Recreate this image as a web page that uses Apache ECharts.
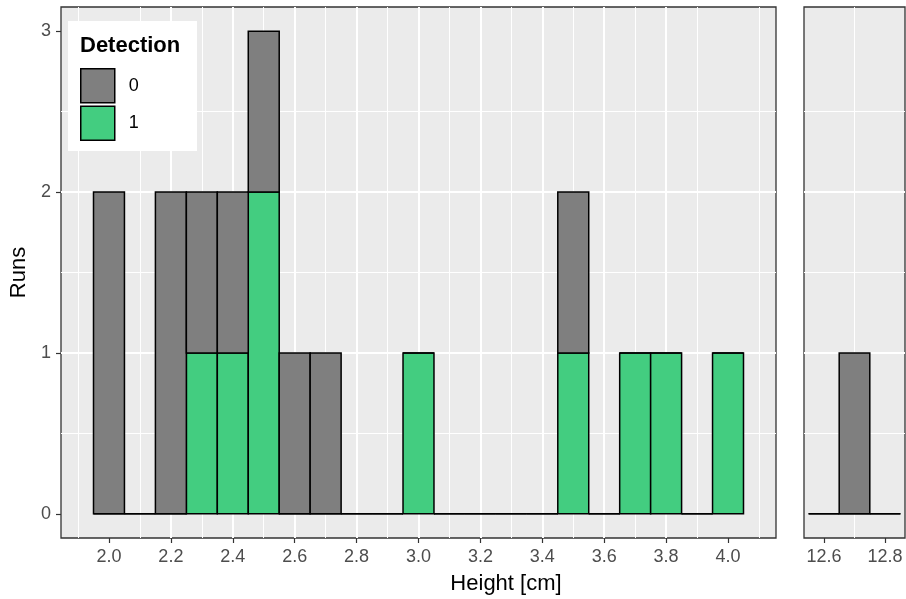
<!DOCTYPE html>
<html>
<head>
<meta charset="utf-8">
<script src="https://cdn.jsdelivr.net/npm/echarts@6/dist/echarts.min.js"></script>
<style>
  html, body { margin: 0; padding: 0; background: #ffffff; }
  #chart { width: 906px; height: 599px; }
</style>
</head>
<body>
<div id="chart"></div>
<script>
// Histogram of runs by plant height, split by detection (0 / 1), bin width 0.1 cm.
const binWidth = 0.1;

// Left facet: 1.95 .. 4.05 cm
const leftBinCenters = [2.0, 2.1, 2.2, 2.3, 2.4, 2.5, 2.6, 2.7, 2.8, 2.9, 3.0, 3.1, 3.2, 3.3, 3.4, 3.5, 3.6, 3.7, 3.8, 3.9, 4.0];
const leftRunsDet0 = [2, 0, 2, 1, 1, 1, 1, 1, 0, 0, 0, 0, 0, 0, 0, 1, 0, 0, 0, 0, 0];
const leftRunsDet1 = [0, 0, 0, 1, 1, 2, 0, 0, 0, 0, 1, 0, 0, 0, 0, 1, 0, 1, 1, 0, 1];

// Right facet: 12.55 .. 12.85 cm
const rightBinCenters = [12.6, 12.7, 12.8];
const rightRunsDet0 = [0, 1, 0];
const rightRunsDet1 = [0, 0, 0];

// Tick labels
const leftXTicks = [2.0, 2.2, 2.4, 2.6, 2.8, 3.0, 3.2, 3.4, 3.6, 3.8, 4.0];
const rightXTicks = [12.6, 12.8];
const yTicks = [0, 1, 2, 3];

const detectionLevels = ['0', '1'];
const fillColors = { '0': '#7F7F7F', '1': '#43CD80' };

const FONT = "'Liberation Sans', Arial, sans-serif";
const PANEL_BG = '#EBEBEB';
const FRAME = '#333333';
const TEXT_GRAY = '#4D4D4D';

// Stacked rectangles: detection 1 at the bottom, detection 0 stacked on top
function stackRects(centers, lower, upper, which) {
  return centers.map(function (c, i) {
    const x0 = c - binWidth / 2, x1 = c + binWidth / 2;
    if (which === '1') return [x0, x1, 0, lower[i]];
    return [x0, x1, lower[i], lower[i] + upper[i]];
  });
}

// ggplot-like 5% expansion of the data range
function expandRange(lo, hi) {
  const pad = (hi - lo) * 0.05;
  return [lo - pad, hi + pad];
}

const leftRange = expandRange(leftBinCenters[0] - binWidth / 2, leftBinCenters[leftBinCenters.length - 1] + binWidth / 2);
const rightRange = expandRange(rightBinCenters[0] - binWidth / 2, rightBinCenters[rightBinCenters.length - 1] + binWidth / 2);
const maxStack = Math.max.apply(null, leftRunsDet0.map((v, i) => v + leftRunsDet1[i]).concat(rightRunsDet0.map((v, i) => v + rightRunsDet1[i])));
const yRange = expandRange(0, maxStack);

function renderRect(params, api) {
  const p0 = api.coord([api.value(0), api.value(3)]);
  const p1 = api.coord([api.value(1), api.value(2)]);
  return {
    type: 'rect',
    shape: { x: p0[0], y: p0[1], width: p1[0] - p0[0], height: p1[1] - p0[1] },
    style: { fill: api.visual('color'), stroke: '#000000', lineWidth: 1.5 }
  };
}

const majorGrid = { color: '#FFFFFF', width: 2 };
const minorGrid = { color: '#FFFFFF', width: 1 };

function xAxisFor(gridIndex, range, ticks) {
  return {
    type: 'value', gridIndex: gridIndex,
    min: range[0], max: range[1],
    splitNumber: 11, minInterval: 0.2, maxInterval: 0.2,
    axisLine: { show: false, onZero: false },
    axisTick: { show: true, length: 5, customValues: ticks, lineStyle: { color: FRAME, width: 1.2 } },
    axisLabel: {
      show: true, customValues: ticks, margin: 10,
      color: TEXT_GRAY, fontSize: 18, fontFamily: FONT,
      formatter: function (v) { return Number(v).toFixed(1); }
    },
    splitLine: { show: true, showMinLine: false, showMaxLine: false, lineStyle: majorGrid },
    minorTick: { show: false, splitNumber: 2 },
    minorSplitLine: { show: true, lineStyle: minorGrid }
  };
}

function yAxisFor(gridIndex, withLabels) {
  return {
    type: 'value', gridIndex: gridIndex,
    min: yRange[0], max: yRange[1],
    splitNumber: 3, minInterval: 1, maxInterval: 1,
    axisLine: { show: false, onZero: false },
    axisTick: { show: withLabels, length: 5, customValues: yTicks, lineStyle: { color: FRAME, width: 1.2 } },
    axisLabel: {
      show: withLabels, customValues: yTicks, margin: 10,
      color: TEXT_GRAY, fontSize: 18, fontFamily: FONT
    },
    name: withLabels ? 'Runs' : '',
    nameLocation: 'middle', nameGap: 28,
    nameTextStyle: { fontSize: 22, color: '#000000', fontFamily: FONT },
    splitLine: { show: true, showMinLine: false, showMaxLine: false, lineStyle: majorGrid },
    minorTick: { show: false, splitNumber: 2 },
    minorSplitLine: { show: true, lineStyle: minorGrid }
  };
}

function histSeries(name, axisIndex, data) {
  return {
    type: 'custom', name: name,
    xAxisIndex: axisIndex, yAxisIndex: axisIndex,
    itemStyle: { color: fillColors[name] },
    renderItem: renderRect,
    encode: { x: [0, 1], y: [2, 3] },
    data: data,
    silent: true, animation: false
  };
}

const chart = echarts.init(document.getElementById('chart'), null, { renderer: 'canvas' });

chart.setOption({
  animation: false,
  backgroundColor: '#FFFFFF',
  textStyle: { fontFamily: FONT },
  grid: [
    { left: 61, top: 7, width: 715, height: 531, show: true, backgroundColor: PANEL_BG, borderColor: FRAME, borderWidth: 1.3, containLabel: false, outerBoundsMode: 'none' },
    { left: 804, top: 7, width: 101, height: 531, show: true, backgroundColor: PANEL_BG, borderColor: FRAME, borderWidth: 1.3, containLabel: false, outerBoundsMode: 'none' }
  ],
  xAxis: [xAxisFor(0, leftRange, leftXTicks), xAxisFor(1, rightRange, rightXTicks)],
  yAxis: [yAxisFor(0, true), yAxisFor(1, false)],
  legend: {
    data: detectionLevels.map(function (lv) {
      return { name: lv, icon: 'rect', itemStyle: { color: fillColors[lv], borderColor: '#000000', borderWidth: 1.5 } };
    }),
    orient: 'vertical', left: 80, top: 68, padding: 0,
    itemWidth: 34, itemHeight: 34, itemGap: 2,
    selectedMode: false,
    textStyle: { fontSize: 18, color: '#000000', fontFamily: FONT, padding: [0, 0, 0, 9] },
    z: 6
  },
  graphic: [
    { type: 'rect', left: 68, top: 21, shape: { width: 129, height: 130 }, style: { fill: '#FFFFFF' }, z: 5, silent: true },
    { type: 'text', left: 80, top: 35, style: { text: 'Detection', fontSize: 22, fontWeight: 'bold', fill: '#000000', fontFamily: FONT }, z: 6, silent: true },
    { type: 'text', x: 506, y: 584, style: { text: 'Height [cm]', fontSize: 22, fill: '#000000', fontFamily: FONT, align: 'center', verticalAlign: 'middle' }, z: 6, silent: true }
  ],
  series: [
    histSeries('1', 0, stackRects(leftBinCenters, leftRunsDet1, leftRunsDet0, '1')),
    histSeries('0', 0, stackRects(leftBinCenters, leftRunsDet1, leftRunsDet0, '0')),
    histSeries('1', 1, stackRects(rightBinCenters, rightRunsDet1, rightRunsDet0, '1')),
    histSeries('0', 1, stackRects(rightBinCenters, rightRunsDet1, rightRunsDet0, '0'))
  ]
});
</script>
</body>
</html>
